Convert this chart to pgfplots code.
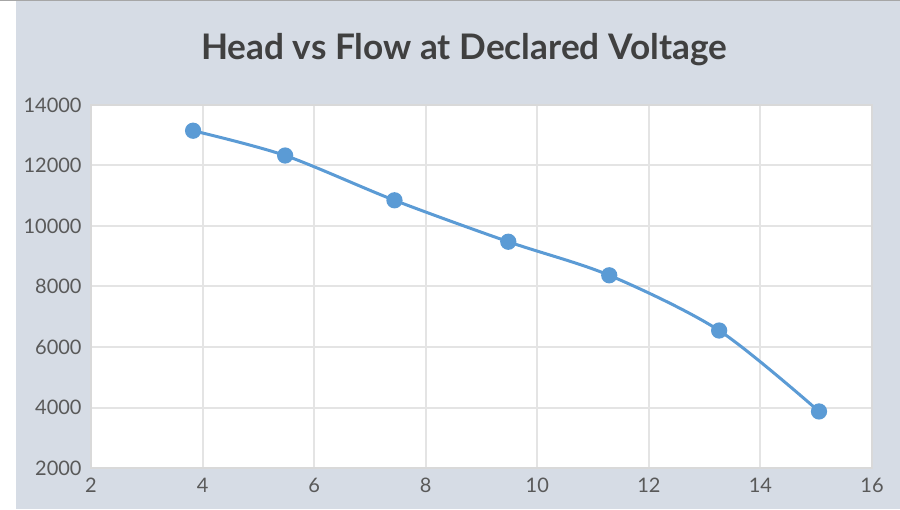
\documentclass[border=0pt]{standalone}
\usepackage{fontspec}
\setmainfont{Lato}
\usepackage{pgfplots}
\pgfplotsset{compat=1.18}
\definecolor{bgc}{HTML}{D6DCE5}
\definecolor{framec}{HTML}{D9D9D9}
\definecolor{gridc}{HTML}{E4E4E4}
\definecolor{tickc}{HTML}{595959}
\definecolor{titlec}{HTML}{404040}
\definecolor{linec}{HTML}{5B9BD5}
\begin{document}
\begin{tikzpicture}
\fill[white] (0pt,0pt) rectangle (450pt,254.5pt);
\fill[bgc] (8pt,0pt) rectangle (450pt,254pt);
\fill[gray!70] (0pt,254pt) rectangle (450pt,254.5pt);
\node[font=\fontsize{17.6}{21}\selectfont\bfseries, text=titlec, anchor=base] at (232pt,224.5pt) {Head vs Flow at Declared Voltage};
\begin{axis}[
  at={(45.5pt,20.5pt)}, anchor=south west,
  scale only axis, width=390.5pt, height=181.5pt,
  xmin=2, xmax=16, ymin=2000, ymax=14000,
  xtick={2,4,...,16}, ytick={2000,4000,...,14000},
  scaled ticks=false,
  major tick length=0pt,
  axis background/.style={fill=white},
  axis line style={draw=framec, line width=1pt},
  grid=major,
  major grid style={draw=gridc, line width=1pt},
  tick label style={font=\fontsize{10}{12}\selectfont, text=tickc, inner sep=0pt},
  xticklabel style={yshift=-5pt},
  yticklabel style={xshift=-4.5pt},
  /pgf/number format/assume math mode=true,
  /pgf/number format/1000 sep={},
  clip=false,
]
\addplot[color=linec, line width=1.5pt, smooth, tension=0.5, mark=*, mark size=3.3pt, mark options={fill=linec, draw=none}]
coordinates {
(3.83,13150)
(5.48,12330)
(7.44,10850)
(9.48,9480)
(11.29,8370)
(13.26,6545)
(15.05,3870)
};
\end{axis}
\end{tikzpicture}
\end{document}
